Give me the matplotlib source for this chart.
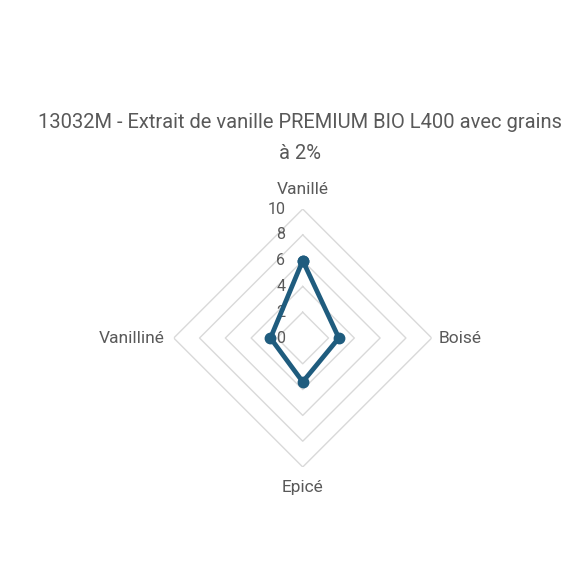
import numpy as np
import matplotlib
matplotlib.use("Agg")
import matplotlib.pyplot as plt

# Data
categories = ["Vanillé", "Boisé", "Epicé", "Vanilliné"]
values = [6.0, 2.8, 3.4, 2.5]
r_ticks = [0, 2, 4, 6, 8, 10]
title = "13032M - Extrait de vanille PREMIUM BIO L400 avec grains\nà 2%"

line_color = "#1F5C7E"
grid_color = "#D9D9D9"
text_color = "#595959"

plt.rcParams["font.family"] = ["Roboto", "DejaVu Sans"]

fig = plt.figure(figsize=(5.85, 5.85), dpi=100)
fig.patch.set_facecolor("white")
ax = fig.add_axes([0.297, 0.2017, 0.441, 0.441], projection="polar")
ax.set_theta_zero_location("N")
ax.set_theta_direction(-1)
ax.set_ylim(0, 10)
ax.axis("off")

angles = np.linspace(0, 2 * np.pi, len(categories), endpoint=False)
closed = np.append(angles, angles[0])

# straight (diamond) gridlines
for r in r_ticks[1:]:
    ax.plot(closed, [r] * len(closed), color=grid_color, lw=1.0, zorder=1)

# radial tick labels along the top axis
for r in r_ticks:
    ax.annotate(str(r), xy=(0, r), xytext=(-12.5, 0), textcoords="offset points",
                ha="right", va="center", fontsize=11.5, color=text_color, zorder=2)

# series
vals = np.append(values, values[0])
ax.plot(closed, vals, color=line_color, lw=3.4, marker="o", ms=7.5,
        solid_joinstyle="round", zorder=3, clip_on=False)

# category labels
fs = 12.5
ax.text(angles[0], 10.9, categories[0], ha="center", va="bottom", fontsize=fs, color=text_color)
ax.text(angles[1], 10.5, categories[1], ha="left", va="center", fontsize=fs, color=text_color)
ax.text(angles[2], 11.0, categories[2], ha="center", va="top", fontsize=fs, color=text_color)
ax.text(angles[3], 10.7, categories[3], ha="right", va="center", fontsize=fs, color=text_color)

fig.text(0.513, 0.764, title, ha="center", va="center", fontsize=14.5, color=text_color,
         linespacing=1.75)

fig.savefig("out.png", dpi=100, facecolor="white")
